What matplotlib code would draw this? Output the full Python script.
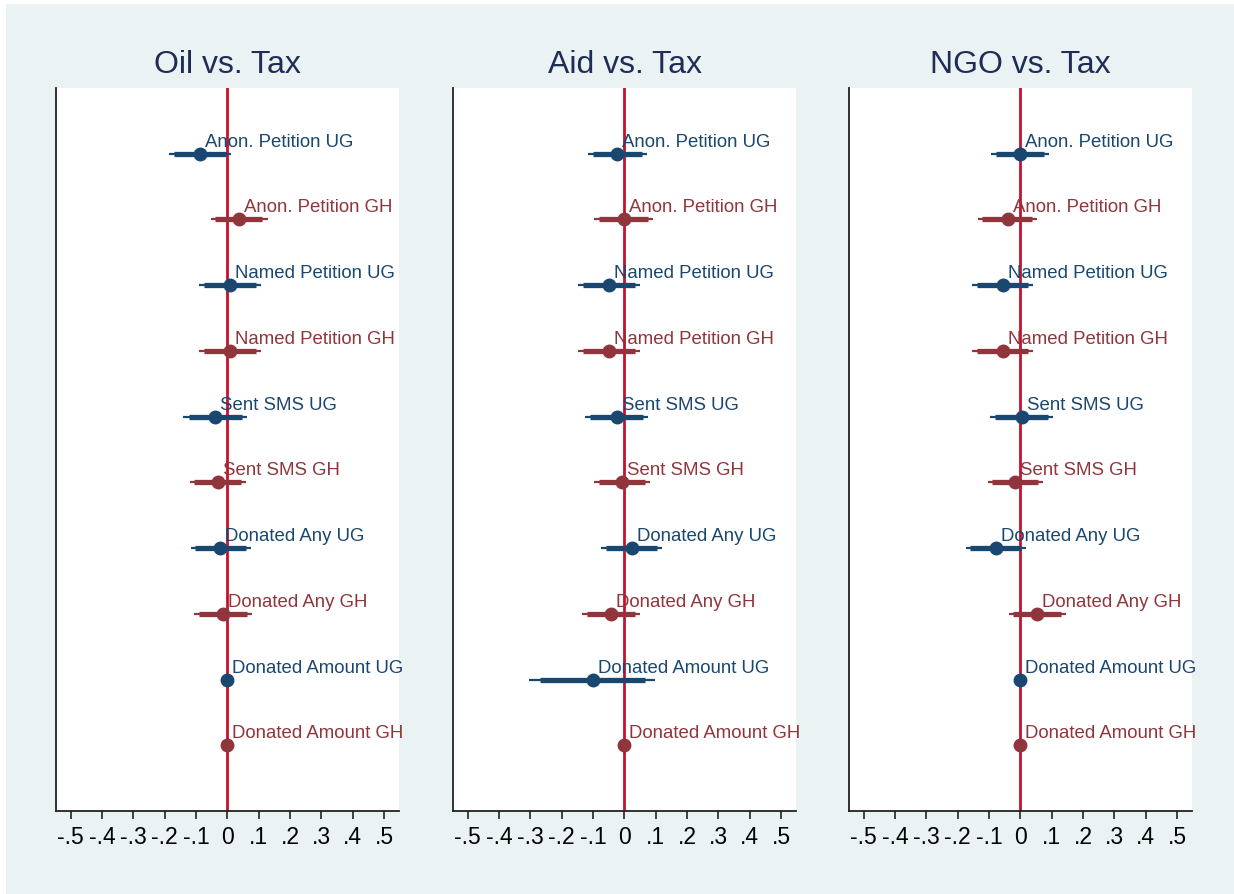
import numpy as np
import matplotlib
matplotlib.use("Agg")
import matplotlib.pyplot as plt
from matplotlib.patches import Rectangle

plt.rcParams['font.family'] = ['Liberation Sans', 'DejaVu Sans']

# Coefficient plots: point estimate, thick (90%) and thin (95%) intervals
outcomes = ["Anon. Petition UG", "Anon. Petition GH", "Named Petition UG",
            "Named Petition GH", "Sent SMS UG", "Sent SMS GH",
            "Donated Any UG", "Donated Any GH", "Donated Amount UG",
            "Donated Amount GH"]
panel_titles = ["Oil vs. Tax", "Aid vs. Tax", "NGO vs. Tax"]

oil_coef = [-0.086, 0.037, 0.009, 0.009, -0.039, -0.031, -0.022, -0.015, 0.0, 0.0]
oil_lo95 = [-0.185, -0.053, -0.089, -0.089, -0.140, -0.119, -0.117, -0.105, 0.0, 0.0]
oil_hi95 = [0.012, 0.129, 0.108, 0.108, 0.062, 0.059, 0.075, 0.080, 0.0, 0.0]
oil_lo90 = [-0.170, -0.039, -0.074, -0.074, -0.124, -0.106, -0.103, -0.090, 0.0, 0.0]
oil_hi90 = [-0.005, 0.112, 0.091, 0.091, 0.046, 0.044, 0.059, 0.064, 0.0, 0.0]

aid_coef = [-0.023, -0.002, -0.050, -0.050, -0.024, -0.006, 0.024, -0.042, -0.101, 0.0]
aid_lo95 = [-0.117, -0.096, -0.149, -0.149, -0.125, -0.096, -0.074, -0.135, -0.303, 0.0]
aid_hi95 = [0.071, 0.093, 0.050, 0.050, 0.077, 0.083, 0.120, 0.050, 0.099, 0.0]
aid_lo90 = [-0.101, -0.081, -0.133, -0.133, -0.109, -0.081, -0.060, -0.120, -0.269, 0.0]
aid_hi90 = [0.055, 0.077, 0.034, 0.034, 0.061, 0.066, 0.104, 0.034, 0.066, 0.0]

ngo_coef = [-0.001, -0.041, -0.056, -0.056, 0.004, -0.016, -0.078, 0.053, 0.0, 0.0]
ngo_lo95 = [-0.093, -0.136, -0.155, -0.155, -0.096, -0.104, -0.175, -0.037, 0.0, 0.0]
ngo_hi95 = [0.090, 0.054, 0.041, 0.041, 0.104, 0.072, 0.018, 0.146, 0.0, 0.0]
ngo_lo90 = [-0.078, -0.121, -0.139, -0.139, -0.080, -0.090, -0.160, -0.023, 0.0, 0.0]
ngo_hi90 = [0.074, 0.038, 0.026, 0.026, 0.088, 0.056, 0.002, 0.130, 0.0, 0.0]

xticks = [-0.5, -0.4, -0.3, -0.2, -0.1, 0, 0.1, 0.2, 0.3, 0.4, 0.5]
xtick_labels = ["-.5", "-.4", "-.3", "-.2", "-.1", "0", ".1", ".2", ".3", ".4", ".5"]

blue = "#1a476f"
red = "#90353b"
bg = "#eaf2f3"
zero_col = "#c8102e"
title_col = "#1f2d56"

W, H = 1234, 894
fig = plt.figure(figsize=(W / 100, H / 100), dpi=100, facecolor="white")
fig.patches.append(Rectangle((6 / W, 0), 1 - 6 / W, 1 - 4 / H,
                             transform=fig.transFigure, facecolor=bg,
                             edgecolor="none", zorder=-10))

panels = [
    (oil_coef, oil_lo95, oil_hi95, oil_lo90, oil_hi90),
    (aid_coef, aid_lo95, aid_hi95, aid_lo90, aid_hi90),
    (ngo_coef, ngo_lo95, ngo_hi95, ngo_lo90, ngo_hi90),
]
lefts = [56, 453, 849]
top, bottom = 88, 811
pw = 343

for k, (coef, lo95, hi95, lo90, hi90) in enumerate(panels):
    ax = fig.add_axes([lefts[k] / W, (H - bottom) / H, pw / W, (bottom - top) / H])
    ax.set_facecolor("white")
    ax.axvline(0, color=zero_col, lw=2, zorder=1)
    for i, name in enumerate(outcomes):
        y = i + 1
        col = blue if name.endswith("UG") else red
        ax.plot([lo95[i], hi95[i]], [y, y], color=col, lw=1.6, zorder=2,
                solid_capstyle="butt")
        ax.plot([lo90[i], hi90[i]], [y, y], color=col, lw=3.8, zorder=3,
                solid_capstyle="butt")
        ax.plot(coef[i], y, "o", color=col, ms=9, zorder=4)
        ax.annotate(name, (coef[i], y), xytext=(5, 7), textcoords="offset pixels",
                    ha="left", va="baseline", color=col, fontsize=13.4,
                    zorder=5)
    ax.set_xlim(-0.547, 0.548)
    ax.set_ylim(11, 0)
    ax.set_yticks([])
    ax.set_xticks(xticks)
    ax.set_xticklabels(xtick_labels, fontsize=16.5)
    ax.tick_params(axis="x", length=6, width=1.2, color="#222222", pad=5)
    for s in ["top", "right"]:
        ax.spines[s].set_visible(False)
    for s in ["left", "bottom"]:
        ax.spines[s].set_linewidth(1.3)
        ax.spines[s].set_color("#222222")
    fig.text((lefts[k] + pw / 2) / W, 1 - 65 / H, panel_titles[k],
             ha="center", va="center", fontsize=23, color=title_col)

fig.savefig("out.png", dpi=100, facecolor=fig.get_facecolor())
